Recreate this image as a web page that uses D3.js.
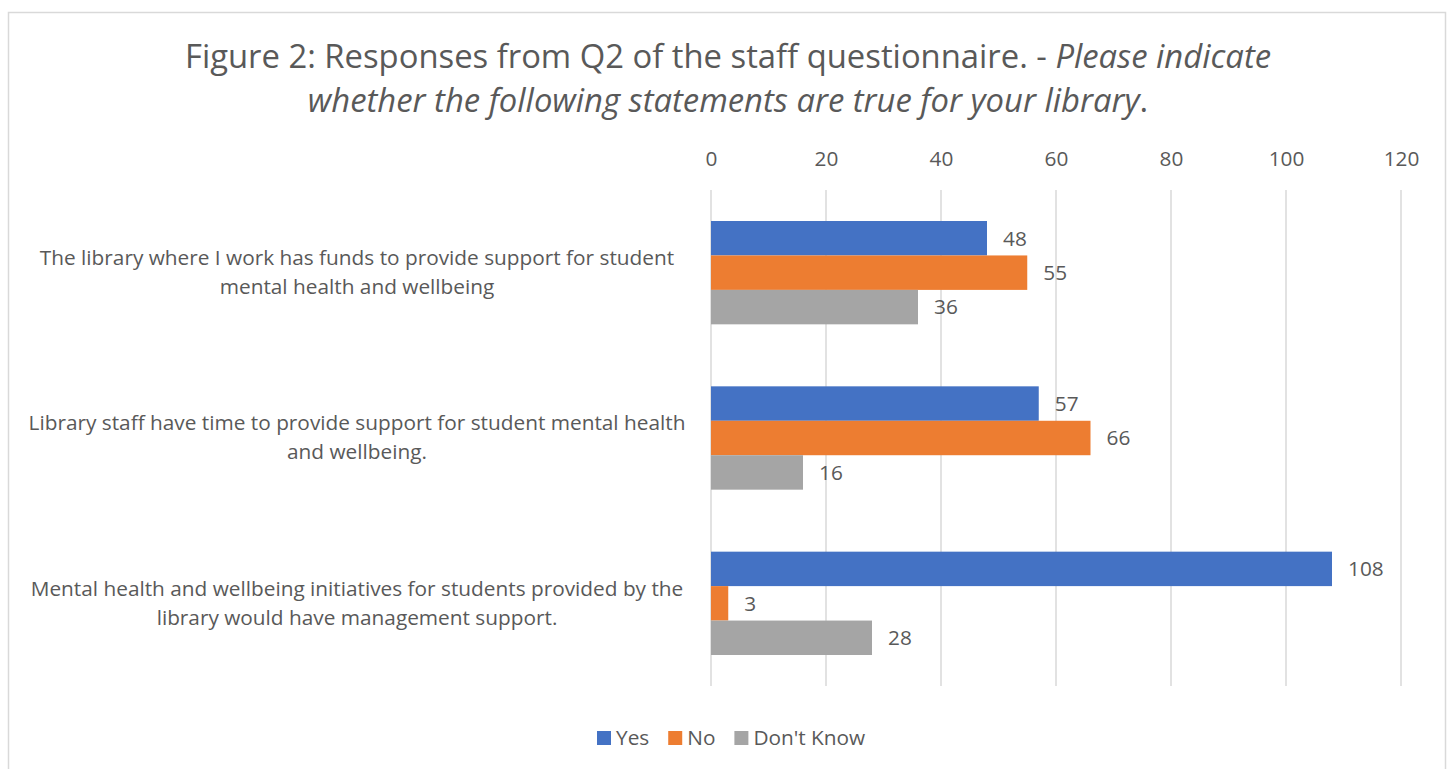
<!DOCTYPE html>
<html>
<head>
<meta charset="utf-8">
<script src="https://cdn.jsdelivr.net/npm/d3@7"></script>
<style>
  html, body { margin: 0; padding: 0; background: #fff; }
  svg { display: block; font-family: "Open Sans", "Liberation Sans", sans-serif; }
</style>
</head>
<body>
<svg id="chart" width="1454" height="769"></svg>
<script>
// Statements (each drawn on two lines)
const categories = [
  ["The library where I work has funds to provide support for student", "mental health and wellbeing"],
  ["Library staff have time to provide support for student mental health", "and wellbeing."],
  ["Mental health and wellbeing initiatives for students provided by the", "library would have management support."]
];
const seriesNames = ["Yes", "No", "Don't Know"];
const seriesColors = ["#4472c4", "#ed7d31", "#a5a5a5"];
const yesValues = [48, 57, 108];
const noValues = [55, 66, 3];
const dontKnowValues = [36, 16, 28];
const tickValues = [0, 20, 40, 60, 80, 100, 120];

const series = [yesValues, noValues, dontKnowValues];
const textColor = "#595959";
const fontFamily = "'Open Sans', 'Liberation Sans', sans-serif";
const labelSize = 20.8;
const catCenterX = 357;

const svg = d3.select("#chart");

// Outer chart frame
svg.append("rect")
  .attr("x", 8.5).attr("y", 12.5)
  .attr("width", 1437).attr("height", 770)
  .attr("fill", "#fff").attr("stroke", "#d9d9d9").attr("stroke-width", 1.5);

// Title
const title = svg.append("text")
  .attr("text-anchor", "middle")
  .attr("fill", textColor)
  .attr("font-size", 32.8);
title.append("tspan").attr("x", 728).attr("y", 68)
  .text("Figure 2: Responses from Q2 of the staff questionnaire. - ")
  .append("tspan").attr("font-style", "italic").text("Please indicate");
const line2 = title.append("tspan").attr("x", 728).attr("y", 112);
line2.append("tspan").attr("font-style", "italic")
  .text("whether the following statements are true for your library");
line2.append("tspan").text(".");

const plot = { left: 711, right: 1401, top: 190, bottom: 686 };

const x = d3.scaleLinear().domain([0, 120]).range([plot.left, plot.right]);
const y = d3.scaleBand().domain(d3.range(categories.length))
  .range([plot.top, plot.bottom]).paddingInner(0.375).paddingOuter(0.1875);
const ySub = d3.scaleBand().domain(d3.range(series.length))
  .range([0, y.bandwidth()]);

// Vertical gridlines
svg.append("g")
  .selectAll("line")
  .data(tickValues)
  .join("line")
  .attr("x1", d => x(d)).attr("x2", d => x(d))
  .attr("y1", plot.top).attr("y2", plot.bottom)
  .attr("stroke", "#d9d9d9").attr("stroke-width", 1.5);

// Top axis labels
const axis = svg.append("g")
  .attr("transform", `translate(0,${plot.top - 24})`)
  .call(d3.axisTop(x).tickValues(tickValues).tickSize(0).tickPadding(0));
axis.select(".domain").remove();
axis.selectAll("text")
  .attr("fill", textColor)
  .attr("font-size", labelSize)
  .attr("font-family", fontFamily);

// Bars and value labels
const groups = svg.append("g")
  .selectAll("g")
  .data(categories)
  .join("g")
  .attr("transform", (d, i) => `translate(0,${y(i)})`);

groups.each(function(cat, ci) {
  const g = d3.select(this);
  series.forEach((vals, si) => {
    const v = vals[ci];
    g.append("rect")
      .attr("x", x(0))
      .attr("y", ySub(si))
      .attr("width", x(v) - x(0))
      .attr("height", ySub.bandwidth())
      .attr("fill", seriesColors[si]);
    g.append("text")
      .attr("x", x(v) + 16)
      .attr("y", ySub(si) + ySub.bandwidth() / 2)
      .attr("dy", "0.35em")
      .attr("fill", textColor)
      .attr("font-size", labelSize)
      .text(v);
  });
  // Category label, centred lines
  const lbl = g.append("text")
    .attr("text-anchor", "middle")
    .attr("fill", textColor)
    .attr("font-size", labelSize);
  const cy = y.bandwidth() / 2;
  cat.forEach((line, li) => {
    lbl.append("tspan")
      .attr("x", catCenterX)
      .attr("y", cy + (li - 0.5) * 29 + 7)
      .text(line);
  });
});

// Legend
const legend = svg.append("g");
let lx = 597;
seriesNames.forEach((name, i) => {
  legend.append("rect")
    .attr("x", lx).attr("y", 731)
    .attr("width", 14).attr("height", 14)
    .attr("fill", seriesColors[i]);
  const t = legend.append("text")
    .attr("x", lx + 19).attr("y", 738)
    .attr("dy", "0.35em")
    .attr("fill", textColor)
    .attr("font-size", labelSize)
    .text(name);
  lx += 19 + t.node().getComputedTextLength() + 19;
});
</script>
</body>
</html>
